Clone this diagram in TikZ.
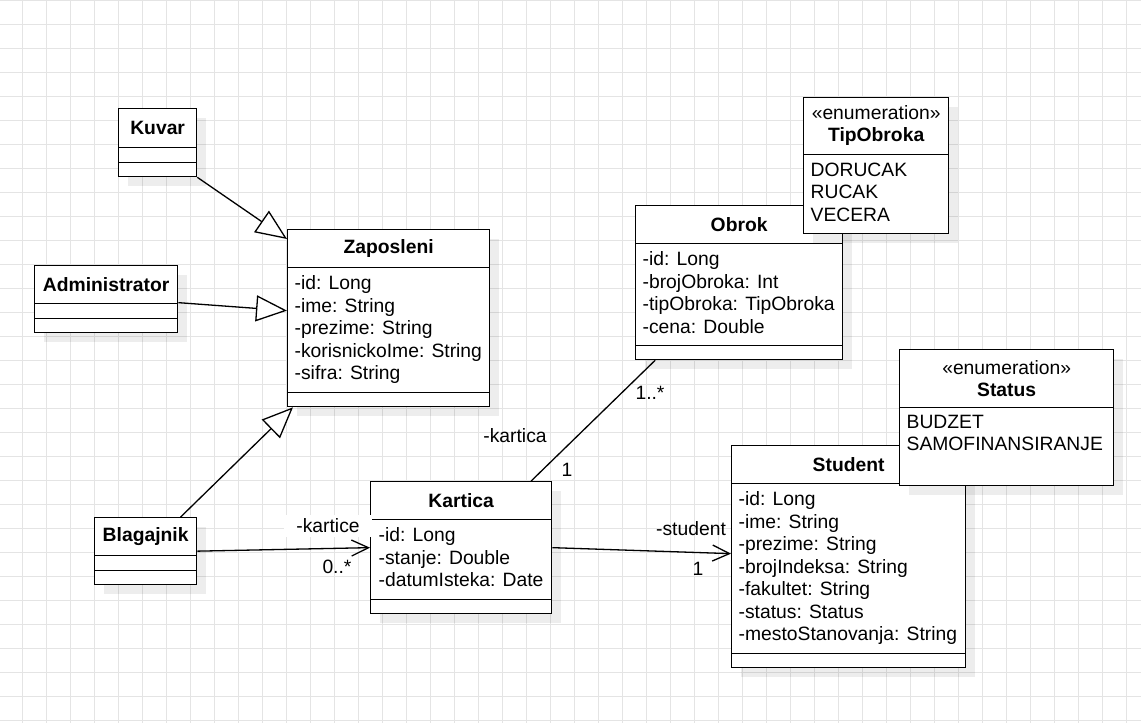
\documentclass[tikz,border=0pt]{standalone}
\usepackage{fontspec}
\setmainfont{Liberation Sans}
\usepackage{xcolor}
\usepackage{tikz}
\usetikzlibrary{arrows.meta,shadows}

\definecolor{gridgray}{HTML}{E4E4E4}

\begin{document}
\begin{tikzpicture}[x=1pt,y=-1pt,line width=1.3pt,font=\fontsize{19.3}{22.5}\selectfont,
  gen/.style={-{Triangle[fill=white,length=31pt,width=26pt]}},
  assoc/.style={-{Straight Barb[length=17pt,width=16pt]}},
  classname/.style={anchor=north,inner sep=0pt,align=center,font=\fontsize{19.3}{22}\selectfont\bfseries},
  attrs/.style={anchor=north west,inner sep=0pt,align=left},
  lbl/.style={inner sep=0pt}]
  \tikzstyle{umlclass}=[draw,fill=white,inner sep=0pt,anchor=north west,
    drop shadow={shadow xshift=9pt,shadow yshift=-9pt,opacity=0.07,fill=black}]

  \useasboundingbox (0,0) rectangle (1141,723);
  \fill[white] (0,0) rectangle (1141,723);
  \foreach \gx in {0,...,46} \draw[gridgray,line width=0.9pt] ({22.7+24*\gx},0) -- ({22.7+24*\gx},723);
  \foreach \gy in {0,...,30} \draw[gridgray,line width=0.9pt] (0,{0.7+24*\gy}) -- (1141,{0.7+24*\gy});

  \node[umlclass,minimum width=78pt,minimum height=68pt]	(kuvar) at (118,108) {};
  \node[classname,minimum width=78pt,minimum height=38pt]	(kuvar-t) at (kuvar.north) {Kuvar};
  \draw (kuvar-t.south west) -- (kuvar-t.south east);
  \draw ([yshift=14.5pt]kuvar.south west) -- ([yshift=14.5pt]kuvar.south east);

  \node[umlclass,minimum width=143pt,minimum height=67pt]	(admin) at (34,265) {};
  \node[classname,minimum width=143pt,minimum height=37pt]	(admin-t) at (admin.north) {Administrator};
  \draw (admin-t.south west) -- (admin-t.south east);
  \draw ([yshift=15pt]admin.south west) -- ([yshift=15pt]admin.south east);

  \node[umlclass,minimum width=202pt,minimum height=177pt]	(zap) at (287,229) {};
  \node[classname,minimum width=202pt,minimum height=37pt]	(zap-t) at (zap.north) {Zaposleni};
  \draw (zap-t.south west) -- (zap-t.south east);
  \node[attrs] (zap-a) at ([xshift=7pt,yshift=-8pt]zap-t.south west)
    {-id: Long\\-ime: String\\-prezime: String\\-korisnickoIme: String\\-sifra: String};
  \draw ([yshift=15pt]zap.south west) -- ([yshift=15pt]zap.south east);

  \node[umlclass,minimum width=102pt,minimum height=67pt]	(blag) at (94,517) {};
  \node[classname,minimum width=102pt,minimum height=37pt]	(blag-t) at (blag.north) {Blagajnik};
  \draw (blag-t.south west) -- (blag-t.south east);
  \draw ([yshift=14.5pt]blag.south west) -- ([yshift=14.5pt]blag.south east);

  \node[umlclass,minimum width=181pt,minimum height=132pt]	(kart) at (370,481) {};
  \node[classname,minimum width=181pt,minimum height=37pt]	(kart-t) at (kart.north) {Kartica};
  \draw (kart-t.south west) -- (kart-t.south east);
  \node[attrs] (kart-a) at ([xshift=8pt,yshift=-8pt]kart-t.south west)
    {-id: Long\\-stanje: Double\\-datumIsteka: Date};
  \draw ([yshift=15pt]kart.south west) -- ([yshift=15pt]kart.south east);

  \node[umlclass,minimum width=207pt,minimum height=154pt]	(obrok) at (635,205) {};
  \node[classname,minimum width=207pt,minimum height=37pt]	(obrok-t) at (obrok.north) {Obrok};
  \draw (obrok-t.south west) -- (obrok-t.south east);
  \node[attrs] (obrok-a) at ([xshift=7pt,yshift=-8pt]obrok-t.south west)
    {-id: Long\\-brojObroka: Int\\-tipObroka: TipObroka\\-cena: Double};
  \draw ([yshift=14.5pt]obrok.south west) -- ([yshift=14.5pt]obrok.south east);

  \node[umlclass,minimum width=145pt,minimum height=136pt]	(tip) at (803,97) {};
  \node[classname,minimum width=145pt,minimum height=56pt]	(tip-t) at (tip.north) {{\mdseries «enumeration»}\\TipObroka};
  \draw (tip-t.south west) -- (tip-t.south east);
  \node[attrs] (tip-a) at ([xshift=7pt,yshift=-8pt]tip-t.south west)
    {DORUCAK\\RUCAK\\VECERA};

  \node[umlclass,minimum width=234pt,minimum height=222pt]	(stud) at (731,445) {};
  \node[classname,minimum width=234pt,minimum height=37pt]	(stud-t) at (stud.north) {Student};
  \draw (stud-t.south west) -- (stud-t.south east);
  \node[attrs] (stud-a) at ([xshift=7pt,yshift=-7.6pt]stud-t.south west)
    {-id: Long\\-ime: String\\-prezime: String\\-brojIndeksa: String\\-fakultet: String\\-status: Status\\-mestoStanovanja: String};
  \draw ([yshift=15pt]stud.south west) -- ([yshift=15pt]stud.south east);

  \node[umlclass,minimum width=214pt,minimum height=136pt]	(status) at (899,349) {};
  \node[classname,minimum width=214pt,minimum height=57pt]	(status-t) at (status.north) {{\mdseries «enumeration»}\\Status};
  \draw (status-t.south west) -- (status-t.south east);
  \node[attrs] (status-a) at ([xshift=7pt,yshift=-7pt]status-t.south west)
    {BUDZET\\SAMOFINANSIRANJE};

  \draw[gen]	(kuvar.south east) -- ([yshift=-10pt]zap.north west);
  \draw[gen]	([yshift=-3.5pt]admin.east) -- ([yshift=7.5pt]zap.west);
  \draw[gen]	([xshift=35pt]blag.north) -- ([xshift=6pt]zap.south west);
  \draw[assoc]	(blag.east) -- (kart.west);
  \draw		([xshift=70pt]kart.north) -- ([xshift=-84pt]obrok.south);
  \draw[assoc]	(kart.east) -- ([yshift=3pt]stud.west);

  \node[lbl,fill=white,minimum width=88pt,minimum height=22pt] (l-kartice) at (328,526) {-kartice};
  \node[lbl] (m-kartice) at (337,567) {0..*};
  \node[lbl] (l-kartica) at (515,436) {-kartica};
  \node[lbl] (m-kartica) at (567,470) {1};
  \node[lbl] (m-obrok) at (650,393) {1..*};
  \node[lbl] (l-student) at (691,529) {-student};
  \node[lbl] (m-student) at (698,569) {1};
\end{tikzpicture}
\end{document}
